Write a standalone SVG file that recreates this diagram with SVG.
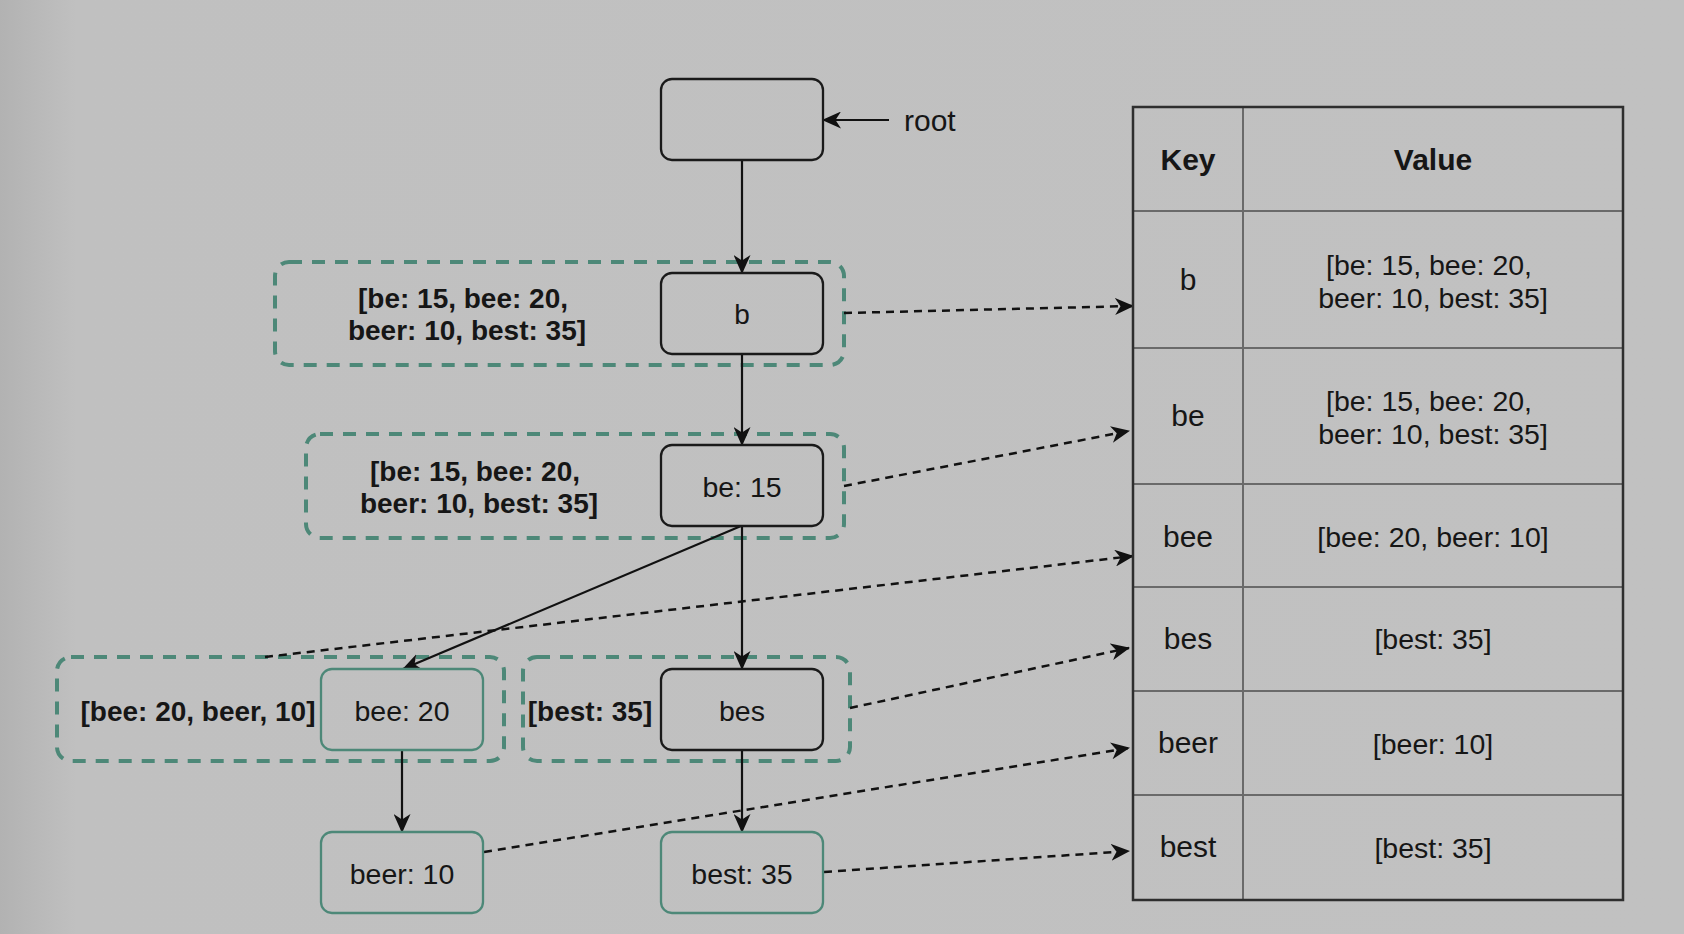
<svg xmlns="http://www.w3.org/2000/svg" width="1684" height="934" viewBox="0 0 1684 934">
<defs>
<linearGradient id="bg" x1="0" y1="0" x2="1" y2="0">
<stop offset="0" stop-color="#b2b2b2"/>
<stop offset="0.045" stop-color="#c0c0c0"/>
<stop offset="1" stop-color="#c1c1c1"/>
</linearGradient>
<marker id="ah" markerUnits="userSpaceOnUse" markerWidth="19" markerHeight="17" refX="18" refY="8.5" orient="auto" viewBox="0 0 19 17">
<path d="M0,0 L19,8.5 L0,17 L5.5,8.5 z" fill="#111"/>
</marker>
<style>
text{font-family:"Liberation Sans",Arial,sans-serif;font-size:28px;fill:#161616}
.b{font-weight:bold}
.m{text-anchor:middle}
.h{font-size:30px}
.t{font-size:28.5px}
.node{fill:none;stroke:#1a1a1a;stroke-width:2.3}
.gnode{fill:none;stroke:#4d8878;stroke-width:2.3}
.grp{fill:none;stroke:#4d8878;stroke-width:4;stroke-dasharray:13 10}
.solid{fill:none;stroke:#111;stroke-width:2.2;marker-end:url(#ah)}
.dot{fill:none;stroke:#111;stroke-width:2.5;stroke-dasharray:8 6;marker-end:url(#ah)}
.tbl{fill:none;stroke:#6a6a6a;stroke-width:2}
.tblo{fill:none;stroke:#2e2e2e;stroke-width:2.5}
</style>
</defs>
<rect width="1684" height="934" fill="url(#bg)"/>

<g id="groups">
<rect id="grp-b" class="grp" x="275" y="262" width="569" height="103" rx="14"/>
<rect id="grp-be" class="grp" x="306" y="434" width="538" height="104" rx="14"/>
<rect id="grp-bee" class="grp" x="57" y="657" width="447" height="104" rx="14"/>
<rect id="grp-bes" class="grp" x="523" y="657" width="327" height="104" rx="14"/>
<text class="b m" x="463" y="308">[be: 15, bee: 20,</text>
<text class="b m" x="467" y="340">beer: 10, best: 35]</text>
<text class="b m" x="475" y="481">[be: 15, bee: 20,</text>
<text class="b m" x="479" y="513">beer: 10, best: 35]</text>
<text class="b m" x="198" y="721">[bee: 20, beer, 10]</text>
<text class="b m" x="590" y="721">[best: 35]</text>
</g>

<g id="connectors">
<line class="solid" x1="889" y1="120" x2="823" y2="120"/>
<line class="solid" x1="742" y1="160" x2="742" y2="273"/>
<line class="solid" x1="742" y1="354" x2="742" y2="445"/>
<line class="solid" x1="741" y1="526" x2="403" y2="669"/>
<line class="solid" x1="742" y1="526" x2="742" y2="669"/>
<line class="solid" x1="402" y1="750" x2="402" y2="832"/>
<line class="solid" x1="742" y1="750" x2="742" y2="832"/>
<line class="dot" x1="844" y1="313" x2="1133" y2="306"/>
<line class="dot" x1="844" y1="486" x2="1129" y2="431"/>
<line class="dot" x1="265" y1="657" x2="1133" y2="556"/>
<line class="dot" x1="850" y1="708" x2="1129" y2="648"/>
<line class="dot" x1="484" y1="852" x2="1129" y2="748"/>
<line class="dot" x1="824" y1="872" x2="1129" y2="851"/>
</g>

<g id="node-root">
<rect class="node" x="661" y="79" width="162" height="81" rx="11"/>
</g>
<g id="label-root"><text class="h" x="904" y="131">root</text></g>
<g id="node-b">
<rect class="node" x="661" y="273" width="162" height="81" rx="11"/>
<text class="m" x="742" y="324">b</text>
</g>
<g id="node-be">
<rect class="node" x="661" y="445" width="162" height="81" rx="11"/>
<text class="m t" x="742" y="497">be: 15</text>
</g>
<g id="node-bee">
<rect class="gnode" x="321" y="669" width="162" height="81" rx="11"/>
<text class="m t" x="402" y="721">bee: 20</text>
</g>
<g id="node-bes">
<rect class="node" x="661" y="669" width="162" height="81" rx="11"/>
<text class="m t" x="742" y="721">bes</text>
</g>
<g id="node-beer">
<rect class="gnode" x="321" y="832" width="162" height="81" rx="11"/>
<text class="m t" x="402" y="884">beer: 10</text>
</g>
<g id="node-best">
<rect class="gnode" x="661" y="832" width="162" height="81" rx="11"/>
<text class="m t" x="742" y="884">best: 35</text>
</g>

<g id="table">
<line class="tbl" x1="1243" y1="107" x2="1243" y2="900"/>
<line class="tbl" x1="1133" y1="211" x2="1623" y2="211"/>
<line class="tbl" x1="1133" y1="348" x2="1623" y2="348"/>
<line class="tbl" x1="1133" y1="484" x2="1623" y2="484"/>
<line class="tbl" x1="1133" y1="587" x2="1623" y2="587"/>
<line class="tbl" x1="1133" y1="691" x2="1623" y2="691"/>
<line class="tbl" x1="1133" y1="795" x2="1623" y2="795"/>
<rect class="tblo" x="1133" y="107" width="490" height="793"/>
<text class="b m h" x="1188" y="170">Key</text>
<text class="b m h" x="1433" y="170">Value</text>
<text class="m h" x="1188" y="290">b</text>
<text class="m t" x="1429" y="275">[be: 15, bee: 20,</text>
<text class="m t" x="1433" y="308">beer: 10, best: 35]</text>
<text class="m h" x="1188" y="426">be</text>
<text class="m t" x="1429" y="411">[be: 15, bee: 20,</text>
<text class="m t" x="1433" y="444">beer: 10, best: 35]</text>
<text class="m h" x="1188" y="547">bee</text>
<text class="m t" x="1433" y="547">[bee: 20, beer: 10]</text>
<text class="m h" x="1188" y="649">bes</text>
<text class="m t" x="1433" y="649">[best: 35]</text>
<text class="m h" x="1188" y="753">beer</text>
<text class="m t" x="1433" y="754">[beer: 10]</text>
<text class="m h" x="1188" y="857">best</text>
<text class="m t" x="1433" y="858">[best: 35]</text>
</g>
</svg>
